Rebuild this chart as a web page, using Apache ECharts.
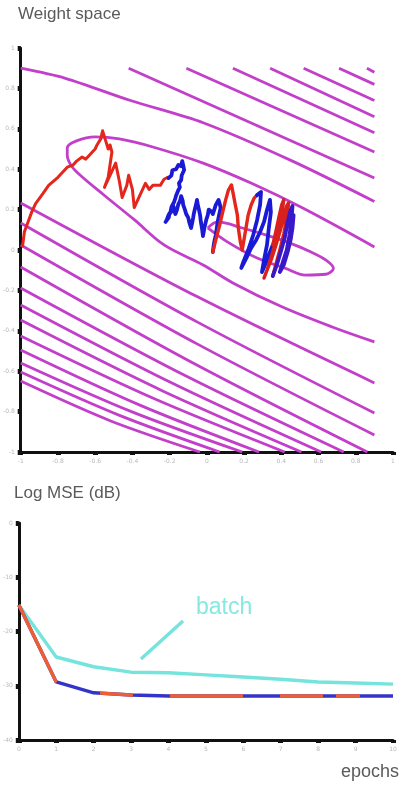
<!DOCTYPE html>
<html><head><meta charset="utf-8">
<script src="https://cdn.jsdelivr.net/npm/echarts@6/dist/echarts.min.js"></script>
<style>html,body{margin:0;padding:0;background:#fff}#c{width:401px;height:785px}</style>
</head><body><div id="c"></div>
<script>
// ---------- Weight space (top) ----------
const contourA1 = [[0.86,0.9],[0.9,0.88]];
const contourA2 = [[0.71,0.9],[0.9,0.82]];
const contourA3 = [[0.52,0.9],[0.9,0.74]];
const contourA4 = [[0.34,0.9],[0.9,0.66]];
const contourA5 = [[0.14,0.9],[0.9,0.58]];
const contourA6 = [[-0.11,0.9],[0.9,0.485]];
const contourA7 = [[-0.42,0.9],[0.9,0.356]];
const contourL1 = [[-1,0.9],[-0.76,0.85],[-0.41,0.74],[-0.02,0.63],[0.46,0.44],[0.9,0.24]];
const contourE2 = [[0.9,0.015],[0.51,0.21],[0.24,0.33],[-0.02,0.43],[-0.29,0.51],[-0.47,0.55],[-0.6,0.56],[-0.7,0.54],[-0.75,0.505],[-0.75,0.47],[-0.73,0.42],[-0.68,0.37],[-0.55,0.27],[-0.39,0.15],[-0.23,0.025],[-0.02,-0.074],[0.14,-0.163],[0.4,-0.28],[0.67,-0.38],[0.9,-0.455]];
const contourE1 = [[0.005,0.109],[0.058,0.139],[0.19,0.109],[0.32,0.074],[0.43,0.04],[0.56,-0.01],[0.64,-0.05],[0.68,-0.09],[0.64,-0.12],[0.53,-0.124],[0.42,-0.09],[0.27,-0.04],[0.11,0.04],[0.005,0.109]];
const contourB1 = [[-1,0.233],[-0.05,-0.232],[0.9,-0.658]];
const contourB2 = [[-1,0.134],[-0.05,-0.357],[0.9,-0.807]];
const contourB3 = [[-1,0.025],[-0.05,-0.466],[0.9,-0.916]];
const contourB4 = [[-1,-0.084],[-0.069,-0.562],[0.862,-1]];
const contourB5 = [[-1,-0.188],[-0.133,-0.614],[0.735,-1]];
const contourB6 = [[-1,-0.272],[-0.193,-0.656],[0.614,-1]];
const contourB7 = [[-1,-0.347],[-0.246,-0.694],[0.508,-1]];
const contourB8 = [[-1,-0.426],[-0.291,-0.733],[0.418,-1]];
const contourB9 = [[-1,-0.495],[-0.36,-0.768],[0.28,-1]];
const contourB10 = [[-1,-0.559],[-0.405,-0.8],[0.19,-1]];
const contourB11 = [[-1,-0.604],[-0.466,-0.82],[0.069,-1]];
const contourB12 = [[-1,-0.649],[-0.52,-0.845],[-0.037,-1]];

const onlineRed1 = [[-0.99,0.02],[-0.98,0.09],[-0.96,0.14],[-0.94,0.19],[-0.92,0.23],[-0.88,0.28],[-0.85,0.32],[-0.8,0.36],[-0.77,0.39],[-0.75,0.41],[-0.72,0.42],[-0.7,0.44],[-0.67,0.46],[-0.65,0.45],[-0.62,0.48],[-0.6,0.5],[-0.59,0.52],[-0.57,0.55],[-0.56,0.59],[-0.545,0.545],[-0.53,0.5],[-0.52,0.52],[-0.51,0.485],[-0.53,0.36],[-0.55,0.31],[-0.52,0.37],[-0.49,0.43],[-0.47,0.34],[-0.455,0.26],[-0.43,0.32],[-0.42,0.37],[-0.4,0.3],[-0.39,0.21],[-0.36,0.27],[-0.33,0.33],[-0.31,0.3],[-0.29,0.32],[-0.25,0.32],[-0.23,0.35],[-0.21,0.36]];
const onlineBlue1 = [[-0.206,0.356],[-0.19,0.37],[-0.185,0.395],[-0.165,0.4],[-0.153,0.421],[-0.14,0.415],[-0.132,0.44],[-0.125,0.41],[-0.122,0.396],[-0.135,0.37],[-0.138,0.347],[-0.15,0.33],[-0.145,0.31],[-0.153,0.297],[-0.165,0.27],[-0.169,0.257],[-0.175,0.24],[-0.19,0.213],[-0.195,0.19],[-0.206,0.173],[-0.215,0.15],[-0.222,0.139],[-0.205,0.16],[-0.201,0.178],[-0.19,0.19],[-0.18,0.218],[-0.175,0.195],[-0.169,0.178],[-0.16,0.2],[-0.153,0.228],[-0.145,0.24],[-0.138,0.267],[-0.13,0.245],[-0.127,0.223],[-0.118,0.2],[-0.111,0.178],[-0.1,0.16],[-0.095,0.139],[-0.085,0.109],[-0.08,0.13],[-0.074,0.158],[-0.07,0.18],[-0.063,0.208],[-0.058,0.225],[-0.053,0.248],[-0.048,0.22],[-0.042,0.198],[-0.036,0.17],[-0.032,0.139],[-0.025,0.1],[-0.021,0.069],[-0.015,0.1],[-0.011,0.119],[-0.003,0.15],[0.005,0.173],[0.01,0.2],[0.016,0.208],[0.025,0.19],[0.032,0.178],[0.04,0.2],[0.048,0.223],[0.055,0.235],[0.063,0.248],[0.07,0.225],[0.074,0.208],[0.065,0.17],[0.058,0.139],[0.052,0.1],[0.048,0.074],[0.042,0.05],[0.037,0.025],[0.032,-0.01]];
const onlineRed2 = [[0.032,-0.01],[0.048,0.05],[0.069,0.124],[0.085,0.188],[0.101,0.248],[0.116,0.297],[0.132,0.322],[0.143,0.272],[0.153,0.223],[0.164,0.173],[0.169,0.109],[0.18,0.04],[0.19,0],[0.201,0.059],[0.212,0.119],[0.222,0.173],[0.238,0.223],[0.254,0.257],[0.27,0.272]];
const onlineBlue2 = [[0.27,0.272],[0.291,0.287],[0.286,0.223],[0.27,0.149],[0.249,0.074],[0.222,0],[0.196,-0.059],[0.185,-0.089],[0.212,-0.04],[0.238,0.01],[0.265,0.05],[0.286,0.089],[0.307,0.139],[0.323,0.198],[0.339,0.248],[0.349,0.257],[0.344,0.188],[0.333,0.109],[0.323,0.025],[0.307,-0.05],[0.296,-0.109],[0.312,-0.074],[0.333,-0.025],[0.354,0.025]];
const onlineRed3 = [[0.354,0.025],[0.37,0.089],[0.386,0.158],[0.402,0.223],[0.413,0.248],[0.402,0.173],[0.386,0.099],[0.365,0.025],[0.344,-0.04],[0.323,-0.099],[0.307,-0.139],[0.328,-0.089],[0.349,-0.04],[0.37,0.02],[0.392,0.089],[0.413,0.158],[0.429,0.218],[0.439,0.233],[0.429,0.158],[0.413,0.079],[0.392,0],[0.37,-0.074],[0.354,-0.129]];
const onlineBlue3 = [[0.354,-0.129],[0.376,-0.074],[0.397,-0.01],[0.418,0.059],[0.434,0.139],[0.45,0.198],[0.46,0.218],[0.455,0.149],[0.444,0.074],[0.429,0],[0.407,-0.064],[0.392,-0.109],[0.413,-0.074],[0.434,-0.01],[0.45,0.05],[0.46,0.109],[0.466,0.173]];

// ---------- Log MSE (bottom) ----------
const epochs = [0,1,2,3,4,5,6,7,8,9,10];
const batchMSE  = [-15.1,-24.7,-26.5,-27.5,-27.6,-28.0,-28.4,-28.8,-29.3,-29.5,-29.7];
const onlineMSE = [-15.1,-29.3,-31.3,-31.7,-31.9,-31.9,-31.9,-31.9,-31.9,-31.9,-31.9];

const MAG = '#c23fca';
const contours = [contourA1,contourA2,contourA3,contourA4,contourA5,contourA6,contourA7,contourL1,contourE2,contourE1,
  contourB1,contourB2,contourB3,contourB4,contourB5,contourB6,contourB7,contourB8,contourB9,contourB10,contourB11,contourB12];

const series = [];
contours.forEach(function(c){
  series.push({type:'line', xAxisIndex:0, yAxisIndex:0, data:c, symbol:'none', silent:true,
    smooth: (c===contourE2||c===contourE1) ? 0.35 : 0.3,
    lineStyle:{color:MAG, width:2.8}, z:2});
});
[[onlineRed1,'#e4261c',3],[onlineBlue1,'#1a1ad6',3.8],[onlineRed2,'#e4261c',3.4],[onlineBlue2,'#1a1ad6',3.8],[onlineRed3,'#d8201c',3.4],[onlineBlue3,'#3818c8',3.8]].forEach(function(p){
  series.push({type:'line', xAxisIndex:0, yAxisIndex:0, data:p[0], symbol:'none', silent:true,
    lineStyle:{color:p[1], width:p[2], join:'round', cap:'round'}, z:5});
});
series.push({type:'line', xAxisIndex:1, yAxisIndex:1, data:epochs.map((e,i)=>[e,batchMSE[i]]), symbol:'none',
  lineStyle:{color:'#74e4dc', width:3.4}, z:3});
series.push({type:'line', xAxisIndex:1, yAxisIndex:1, data:epochs.map((e,i)=>[e,onlineMSE[i]]), symbol:'none',
  lineStyle:{color:'#3434c8', width:3.4}, z:4});
series.push({type:'line', xAxisIndex:1, yAxisIndex:1, data:epochs.map((e,i)=>[e,onlineMSE[i]]), symbol:'none',
  lineStyle:{color:'#ee5e36', width:3.4, type:[86,45,33,37,73,37,43,13,24,60], cap:'butt'}, z:5});

const axisCommon = {
  axisLine:{show:true, onZero:false, lineStyle:{color:'#111', width:3}},
  axisTick:{show:true, length:3, lineStyle:{color:'#111', width:5}},
  splitLine:{show:false},
  axisLabel:{color:'#b8b8b8', fontSize:6, margin:6, fontFamily:'DejaVu Sans'}
};

const chart = echarts.init(document.getElementById('c'), null, {renderer:'canvas'});
chart.setOption({
  animation:false,
  backgroundColor:'#fff',
  grid:[
    {left:15, top:48, width:378, height:404},
    {left:15, top:523, width:378, height:217}
  ],
  xAxis:[
    Object.assign({type:'value', gridIndex:0, min:-1, max:1, interval:0.2}, axisCommon),
    Object.assign({type:'value', gridIndex:1, min:0, max:10, interval:1}, axisCommon)
  ],
  yAxis:[
    Object.assign({type:'value', gridIndex:0, min:-1, max:1, interval:0.2}, axisCommon),
    Object.assign({type:'value', gridIndex:1, min:-40, max:0, interval:10}, axisCommon)
  ],
  graphic:[
    {type:'text', left:18, top:6, style:{text:'Weight space', fill:'#5a5a5a', font:'17px "Liberation Sans", Arial'}},
    {type:'text', left:14, top:485, style:{text:'Log MSE (dB)', fill:'#5a5a5a', font:'17px "Liberation Sans", Arial'}},
    {type:'text', right:2, top:763, style:{text:'epochs', fill:'#5a5a5a', font:'18px "Liberation Sans", Arial'}},
    {type:'text', left:196, top:596, style:{text:'batch', fill:'#86e8e1', font:'23px "Liberation Sans", Arial'}},
    {type:'line', shape:{x1:183, y1:621, x2:141, y2:659}, style:{stroke:'#74e4dc', lineWidth:3.4}}
  ],
  series: series
});
</script></body></html>
